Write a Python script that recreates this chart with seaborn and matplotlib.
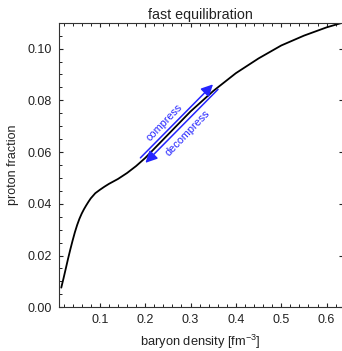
import numpy as np
import pandas as pd
import matplotlib
matplotlib.use("Agg")
import matplotlib.pyplot as plt
import matplotlib.transforms as mtransforms
from matplotlib.ticker import MultipleLocator
import seaborn as sns

# Equilibrium proton fraction versus baryon density
density = [0.015, 0.02, 0.025, 0.03, 0.035, 0.04, 0.045, 0.05, 0.055, 0.06,
           0.065, 0.07, 0.075, 0.08, 0.09, 0.10, 0.11, 0.12, 0.14, 0.16,
           0.18, 0.20, 0.25, 0.30, 0.35, 0.40, 0.45, 0.50, 0.55, 0.60, 0.635]
proton_fraction = [0.0076, 0.0112, 0.0150, 0.0188, 0.0224, 0.0258, 0.0290,
                   0.0318, 0.0342, 0.0362, 0.0379, 0.0394, 0.0408, 0.0421,
                   0.0441, 0.0454, 0.0466, 0.0477, 0.0496, 0.0519, 0.0546,
                   0.0577, 0.0667, 0.0757, 0.0836, 0.0905, 0.0962, 0.1012,
                   0.1050, 0.1082, 0.1100]

# Compression / decompression path along the curve
path_start = (0.195, 0.0568)
path_end = (0.355, 0.0852)

x_ticks = [0.1, 0.2, 0.3, 0.4, 0.5, 0.6]
y_ticks = [0.00, 0.02, 0.04, 0.06, 0.08, 0.10]

df = pd.DataFrame({"density": density, "yp": proton_fraction})

sns.set_theme(style="ticks")
plt.rcParams["font.family"] = ["Liberation Sans", "DejaVu Sans"]
plt.rcParams["mathtext.fontset"] = "custom"
plt.rcParams["mathtext.rm"] = "Liberation Sans"
plt.rcParams["mathtext.it"] = "Liberation Sans:italic"

fig = plt.figure(figsize=(3.42, 3.51), dpi=100)
ax = fig.add_axes([59 / 342, 1 - 307.3 / 351, (342.5 - 59) / 342, (307.3 - 22.7) / 351])

sns.lineplot(data=df, x="density", y="yp", ax=ax, color="black", lw=1.3,
             estimator=None, sort=False)

ax.set_xlim(0.01, 0.635)
ax.set_ylim(0.0, 0.11)
ax.set_xticks(x_ticks)
ax.set_xticklabels([f"{t:.1f}" for t in x_ticks])
ax.set_yticks(y_ticks)
ax.set_yticklabels([f"{t:.2f}" for t in y_ticks])
ax.xaxis.set_minor_locator(MultipleLocator(0.02))
ax.yaxis.set_minor_locator(MultipleLocator(0.005))

ax.tick_params(which="both", direction="in", top=True, right=True,
               labelsize=9, colors="#222222", pad=5)
ax.tick_params(which="major", length=3.2, width=0.8)
ax.tick_params(which="minor", length=2.0, width=0.7, right=False)
for s in ax.spines.values():
    s.set_linewidth(0.8)
    s.set_color("#333333")

ax.set_xlabel("baryon density [fm$^{-3}$]", fontsize=9.3, labelpad=5, color="#222222")
ax.set_ylabel("proton fraction", fontsize=9, labelpad=6, color="#222222")
ax.set_title("fast equilibration", fontsize=10.3, pad=3, color="#222222")

blue = "#2525ff"
up = mtransforms.offset_copy(ax.transData, fig=fig, x=-2.5, y=2.5, units="dots")
down = mtransforms.offset_copy(ax.transData, fig=fig, x=2.5, y=-2.5, units="dots")
arrow_kw = dict(arrowstyle="-|>,head_length=0.7,head_width=0.35", color=blue,
                lw=1.1, mutation_scale=10, shrinkA=0, shrinkB=0)
ax.annotate("", xy=path_end, xycoords=up, xytext=path_start, textcoords=up,
            arrowprops=arrow_kw)
ax.annotate("", xy=path_start, xycoords=down, xytext=path_end, textcoords=down,
            arrowprops=arrow_kw)

ax.text(0.2427, 0.0715, "compress", color=blue, fontsize=7.8, rotation=46,
        ha="center", va="center", rotation_mode="anchor")
ax.text(0.2945, 0.0675, "decompress", color=blue, fontsize=7.8, rotation=46,
        ha="center", va="center", rotation_mode="anchor")

fig.savefig("out.png", dpi=100)
